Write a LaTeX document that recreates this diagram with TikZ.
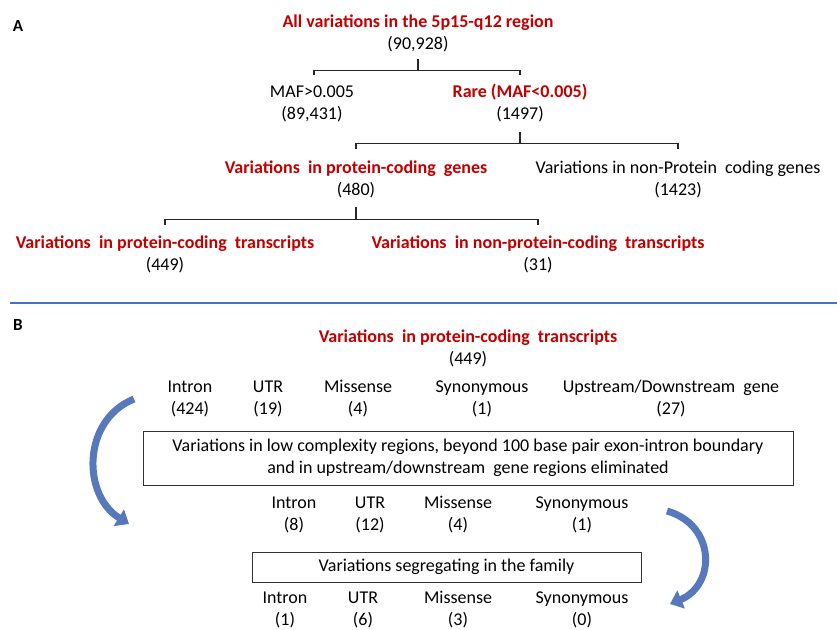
\documentclass[tikz,border=0pt]{standalone}
\usepackage{fontspec}
\setmainfont{Carlito}
\usetikzlibrary{arrows.meta}
\definecolor{darkred}{HTML}{C00000}
\definecolor{rulerblue}{HTML}{4472C4}
\definecolor{flowblue}{HTML}{5878BC}
\tikzset{
  item/.style={align=center, inner sep=0pt, font=\fontsize{18}{22}\selectfont},
  bracket/.style={line width=1.1pt, black!85},
  filterbox/.style={item, draw=black!80, line width=0.8pt},
  flow/.style={line width=7pt, flowblue, -{Triangle[width=19pt,length=12pt]}},
}
\newcommand{\hl}[1]{\textcolor{darkred}{\bfseries #1}}
\begin{document}
\begin{tikzpicture}[x=1pt, y=-1pt]
\useasboundingbox (0,0) rectangle (837,629);

% panel A
\node[item, font=\fontsize{17}{22}\bfseries] (labA) at (18,26) {A};
\node[item] (all) at (418,33.5) {\hl{All variations in the 5p15-q12 region}\\(90,928)};
\node[item] (maf) at (312,103.5) {MAF>0.005\\(89,431)};
\node[item] (rare) at (520,103.5) {\hl{Rare (MAF<0.005)}\\(1497)};
\node[item] (pgenes) at (356,179.5) {\hl{Variations\ \ in protein-coding\ \ genes}\\(480)};
\node[item] (npgenes) at (678,179.5) {Variations in non-Protein\ \ coding genes\\(1423)};
\node[item] (ptrans) at (165,254.5) {\hl{Variations\ \ in protein-coding\ \ transcripts}\\(449)};
\node[item] (nptrans) at (538,254.5) {\hl{Variations\ \ in non-protein-coding\ \ transcripts}\\(31)};

\draw[bracket] (all.south) ++(0,7) -- ++(0,11) coordinate (b1);
\draw[bracket] ([xshift=2pt]maf |- b1) ++(0,5) -- ([xshift=2pt]maf |- b1) -- (rare |- b1) -- ++(0,5);
\draw[bracket] (rare.south) ++(0,9) -- ++(0,12) coordinate (b2);
\draw[bracket] (pgenes |- b2) ++(0,5) -- (pgenes |- b2) -- (npgenes |- b2) -- ++(0,5);
\draw[bracket] (pgenes.south) ++(0,9) -- ++(0,12) coordinate (b3);
\draw[bracket] (ptrans |- b3) ++(0,6) -- (ptrans |- b3) -- (nptrans |- b3) -- ++(0,6);

\draw[rulerblue, line width=1.2pt] (10,303) -- (837,303);

% panel B
\node[item, font=\fontsize{17}{22}\bfseries] (labB) at (18,325) {B};
\node[item] (trans) at (468,348.5) {\hl{Variations\ \ in protein-coding\ \ transcripts}\\(449)};

\node[item] (intron1) at (190,398.5) {Intron\\(424)};
\node[item] (utr1) at (268,398.5) {UTR\\(19)};
\node[item] (mis1) at (358,398.5) {Missense\\(4)};
\node[item] (syn1) at (482,398.5) {Synonymous\\(1)};
\node[item] (updown) at (671,398.5) {Upstream/Downstream\ \ gene\\(27)};

\node[filterbox, minimum width=650, minimum height=54] (filter) at (468,458)
  {Variations in low complexity regions, beyond 100 base pair exon-intron boundary\\and in upstream/downstream\ \ gene regions eliminated};

\node[item] (intron2) at (294,514.5) {Intron\\(8)};
\node[item] (utr2) at (370,514.5) {UTR\\(12)};
\node[item] (mis2) at (458,514.5) {Missense\\(4)};
\node[item] (syn2) at (582,514.5) {Synonymous\\(1)};

\node[filterbox, minimum width=389, minimum height=30] (segregate) at (446.5,567)
  {Variations segregating in the family};

\node[item] (intron3) at (285,609.5) {Intron\\(1)};
\node[item] (utr3) at (363,609.5) {UTR\\(6)};
\node[item] (mis3) at (458,609.5) {Missense\\(3)};
\node[item] (syn3) at (582,609.5) {Synonymous\\(0)};

% curved arrows
\coordinate (l1) at (134,399);
\coordinate (l2) at (129,524);
\coordinate (r1) at (667,511);
\coordinate (r2) at (670,604);
\draw[flow] (l1) .. controls (82,420) and (82,495) .. (l2);
\draw[flow] (r1) .. controls (716,525) and (716,585) .. (r2);
\end{tikzpicture}
\end{document}
